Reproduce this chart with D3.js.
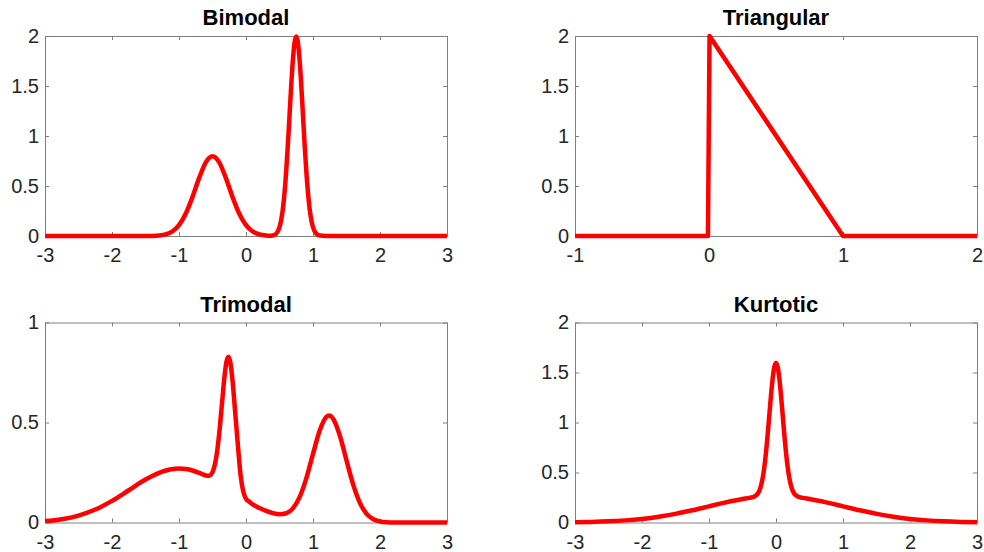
<!DOCTYPE html>
<html><head><meta charset="utf-8">
<script src="https://cdn.jsdelivr.net/npm/d3@7"></script>
<style>
html,body{margin:0;padding:0;background:#fff;}
svg{display:block;font-family:"Liberation Sans",Arial,Helvetica,sans-serif;}
</style></head><body>
<svg id="chart" width="984" height="552"></svg>
<script>
// ---- data ----
const bimodalX = [-3, -2, -1.5, -1.4, -1.3, -1.2, -1.1, -1.0, -0.9, -0.8, -0.7, -0.6, -0.5, -0.4, -0.3, -0.2, -0.1, 0, 0.1, 0.2, 0.3, 0.35, 0.4, 0.45, 0.5, 0.525, 0.55, 0.575, 0.6, 0.625, 0.65, 0.675, 0.7, 0.725, 0.75, 0.775, 0.8, 0.825, 0.85, 0.875, 0.9, 0.925, 0.95, 0.975, 1.0, 1.05, 1.1, 1.2, 1.3, 2, 3];
const bimodalY = [0, 0, 0.0003, 0.0012, 0.0048, 0.0158, 0.0448, 0.108, 0.222, 0.388, 0.579, 0.737, 0.798, 0.737, 0.579, 0.388, 0.222, 0.108, 0.045, 0.0158, 0.0049, 0.0031, 0.0056, 0.0228, 0.088, 0.16, 0.270, 0.432, 0.648, 0.913, 1.210, 1.506, 1.761, 1.934, 1.995, 1.934, 1.761, 1.506, 1.210, 0.913, 0.648, 0.432, 0.270, 0.16, 0.0876, 0.0222, 0.0044, 0.0001, 0, 0, 0];

const triangularX = [-1, -0.008, 0.004, 1, 2];
const triangularY = [0, 0, 2, 0, 0];

const trimodalX = [-3, -2.75, -2.5, -2.25, -2, -1.75, -1.5, -1.25, -1, -0.9, -0.8, -0.7, -0.65, -0.6, -0.55, -0.5, -0.45, -0.4, -0.36, -0.32, -0.29, -0.26, -0.23, -0.2, -0.16, -0.12, -0.08, -0.04, 0, 0.05, 0.1, 0.2, 0.3, 0.4, 0.5, 0.6, 0.7, 0.8, 0.9, 1.0, 1.1, 1.2, 1.24, 1.3, 1.4, 1.5, 1.6, 1.7, 1.8, 1.9, 2.0, 2.1, 2.2, 2.5, 3];
const trimodalY = [0.0070, 0.0165, 0.0346, 0.0647, 0.1082, 0.1613, 0.2146, 0.2546, 0.2696, 0.2671, 0.2599, 0.2483, 0.2414, 0.2351, 0.2340, 0.2519, 0.3139, 0.4437, 0.5888, 0.7323, 0.8058, 0.8285, 0.7926, 0.7058, 0.5449, 0.3825, 0.2339, 0.1535, 0.1181, 0.1039, 0.0903, 0.0725, 0.0581, 0.0469, 0.0413, 0.0461, 0.0709, 0.1271, 0.2210, 0.3426, 0.4596, 0.5284, 0.5347, 0.5191, 0.4349, 0.3107, 0.1893, 0.0983, 0.0435, 0.0164, 0.0052, 0.0014, 0.0003, 0, 0];

const kurtoticX = [-3, -2.75, -2.5, -2.25, -2, -1.75, -1.5, -1.25, -1, -0.75, -0.5, -0.4, -0.35, -0.3, -0.275, -0.25, -0.225, -0.2, -0.175, -0.15, -0.125, -0.1, -0.075, -0.05, -0.025, 0, 0.025, 0.05, 0.075, 0.1, 0.125, 0.15, 0.175, 0.2, 0.225, 0.25, 0.275, 0.3, 0.35, 0.4, 0.5, 0.75, 1, 1.25, 1.5, 1.75, 2, 2.25, 2.5, 2.75, 3];
const kurtoticY = [0.0030, 0.0061, 0.0117, 0.0212, 0.0360, 0.0575, 0.0864, 0.1218, 0.1613, 0.2008, 0.2347, 0.2459, 0.2531, 0.2691, 0.2864, 0.3162, 0.3651, 0.4407, 0.5496, 0.6948, 0.8727, 1.0712, 1.2690, 1.4393, 1.5548, 1.5958, 1.5548, 1.4393, 1.2690, 1.0712, 0.8727, 0.6948, 0.5496, 0.4407, 0.3651, 0.3162, 0.2864, 0.2691, 0.2531, 0.2459, 0.2347, 0.2008, 0.1613, 0.1218, 0.0864, 0.0575, 0.0360, 0.0212, 0.0117, 0.0061, 0.0030];

const titles = ["Bimodal", "Triangular", "Trimodal", "Kurtotic"];
const xTicksWide = [-3, -2, -1, 0, 1, 2, 3];
const xTicksTri = [-1, 0, 1, 2];
const yTicks2 = [0, 0.5, 1, 1.5, 2];
const yTicks1 = [0, 0.5, 1];

// ---- layout ----
const panels = [
  {title: titles[0], xs: bimodalX, ys: bimodalY, xd: [-3, 3], yd: [0, 2], xt: xTicksWide, yt: yTicks2, l: 45, t: 36, r: 447, b: 236, curve: d3.curveMonotoneX},
  {title: titles[1], xs: triangularX, ys: triangularY, xd: [-1, 2], yd: [0, 2], xt: xTicksTri, yt: yTicks2, l: 575, t: 36, r: 977, b: 236, curve: d3.curveLinear},
  {title: titles[2], xs: trimodalX, ys: trimodalY, xd: [-3, 3], yd: [0, 1], xt: xTicksWide, yt: yTicks1, l: 45, t: 322.5, r: 447, b: 522.5, curve: d3.curveMonotoneX},
  {title: titles[3], xs: kurtoticX, ys: kurtoticY, xd: [-3, 3], yd: [0, 2], xt: xTicksWide, yt: yTicks2, l: 575, t: 322.5, r: 977, b: 522.5, curve: d3.curveMonotoneX}
];

const svg = d3.select("#chart");
const axisColor = "#808080";
const labelColor = "#262626";
const fmt = d => String(d);

panels.forEach(p => {
  const x = d3.scaleLinear().domain(p.xd).range([p.l, p.r]);
  const y = d3.scaleLinear().domain(p.yd).range([p.b, p.t]);
  const g = svg.append("g");

  const gb = g.append("g").attr("transform", `translate(0,${p.b})`)
    .call(d3.axisBottom(x).tickValues(p.xt).tickFormat(fmt).tickSizeInner(-4).tickSizeOuter(0).tickPadding(12));
  const gl = g.append("g").attr("transform", `translate(${p.l},0)`)
    .call(d3.axisLeft(y).tickValues(p.yt).tickFormat(fmt).tickSizeInner(-4).tickSizeOuter(0).tickPadding(6));
  const gt = g.append("g").attr("transform", `translate(0,${p.t})`)
    .call(d3.axisTop(x).tickValues(p.xt).tickFormat("").tickSizeInner(-4).tickSizeOuter(0));
  const gr = g.append("g").attr("transform", `translate(${p.r},0)`)
    .call(d3.axisRight(y).tickValues(p.yt).tickFormat("").tickSizeInner(-4).tickSizeOuter(0));

  [gb, gl, gt, gr].forEach(a => {
    a.select(".domain").attr("stroke", axisColor);
    a.selectAll(".tick line").attr("stroke", axisColor);
    a.selectAll(".tick text").attr("fill", labelColor).style("font-size", "20px")
      .style("font-family", '"Liberation Sans",Arial,Helvetica,sans-serif');
  });

  g.append("text")
    .attr("x", (p.l + p.r) / 2)
    .attr("y", p.t - 11)
    .attr("text-anchor", "middle")
    .style("font-size", "22px")
    .style("font-weight", "bold")
    .attr("fill", "#000")
    .text(p.title);

  const pts = p.xs.map((v, i) => [v, p.ys[i]]);
  g.append("path")
    .datum(pts)
    .attr("fill", "none")
    .attr("stroke", "#ff0000")
    .attr("stroke-width", 4.5)
    .attr("stroke-linejoin", "round")
    .attr("d", d3.line().x(d => x(d[0])).y(d => y(d[1])).curve(p.curve));
});
</script>
</body></html>
